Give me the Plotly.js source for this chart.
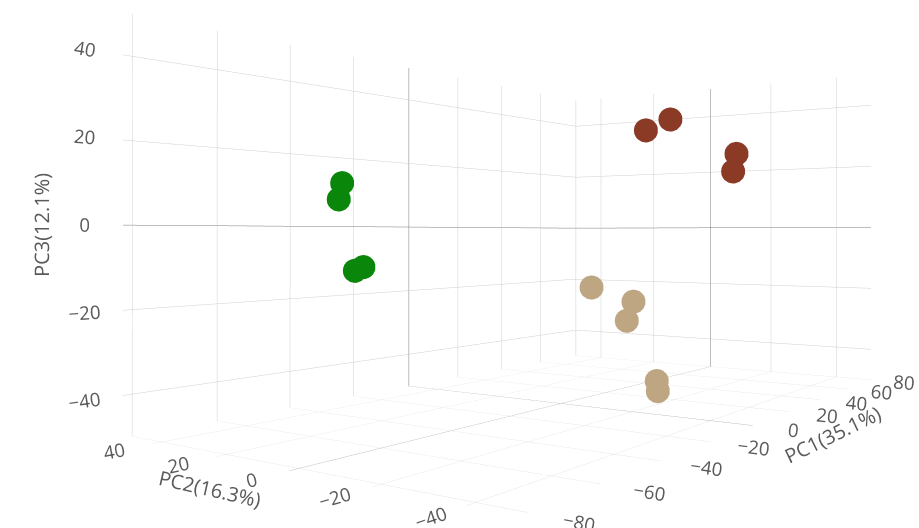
<!DOCTYPE html>
<html>
<head>
<meta charset="utf-8">
<script src="https://cdn.plot.ly/plotly-3.0.1.min.js"></script>
<style>
html,body{margin:0;padding:0;width:919px;height:528px;overflow:hidden;background:#fff;}
#wrap{position:absolute;left:0;top:-203px;width:919px;height:868px;}
#chart{width:919px;height:868px;}
</style>
</head>
<body>
<div id="wrap"><div id="chart"></div></div>
<script>
// Group A (green)
const greenPC1 = [-58.4, -60.4, -56.4, -58.4];
const greenPC2 = [12.6, 11.4, 8.7, 9.0];
const greenPC3 = [9.9, 6.0, -9.7, -10.5];
// Group B (brown)
const brownPC1 = [40, 45, 60, 58];
const brownPC2 = [-0.3, -5.2, -18.1, -18.0];
const brownPC3 = [31.2, 34.9, 24.3, 18.4];
// Group C (tan)
const tanPC1 = [30, 35, 32, 10, 10];
const tanPC2 = [11.0, 0.7, 1.0, -20.7, -21.0];
const tanPC3 = [-19.1, -23.5, -29.3, -43.0, -45.8];

const tickVals = [-80, -60, -40, -20, 0, 20, 40, 60, 80];
const axisTitles = ['PC1(35.1%)', 'PC2(16.3%)', 'PC3(12.1%)'];

function grp(x, y, z, color) {
  return {
    type: 'scatter3d', mode: 'markers', x: x, y: y, z: z,
    marker: {size: 14, color: color, opacity: 1},
    hoverinfo: 'skip', showlegend: false
  };
}
const data = [
  grp(greenPC1, greenPC2, greenPC3, '#0a860a'),
  grp(brownPC1, brownPC2, brownPC3, '#8b3a26'),
  grp(tanPC1, tanPC2, tanPC3, '#bfa683')
];

function ax(title, range) {
  return {
    title: {text: title, font: {family: 'Open Sans, sans-serif', size: 20, color: '#5a5a5a'}},
    range: range, autorange: false,
    tickvals: tickVals,
    tickfont: {family: 'Open Sans, sans-serif', size: 15, color: '#5a5a5a'},
    ticks: 'outside', ticklen: 12, tickcolor: '#ffffff', tickwidth: 1,
    showgrid: true, gridcolor: '#cfcfcf', gridwidth: 1,
    zeroline: true, zerolinecolor: '#7a7a7a', zerolinewidth: 1,
    showline: false, showbackground: false, showspikes: false
  };
}

const layout = {
  width: 919, height: 868,
  margin: {l: 0, r: 0, t: 0, b: 0},
  paper_bgcolor: '#fff',
  showlegend: false,
  scene: {
    domain: {x: [0, 1], y: [0, 1]},
    xaxis: ax(axisTitles[0], [-82, 80]),
    yaxis: ax(axisTitles[1], [-50, 50]),
    zaxis: ax(axisTitles[2], [-50, 50]),
    aspectmode: 'manual',
    aspectratio: {x: 2.068, y: 1.119, z: 1},
    camera: {
      projection: {type: 'perspective'},
      up: {x: 0, y: 0, z: 1},
      center: {x: -0.1605, y: 0.229, z: -0.013},
      eye: {x: -2.5205, y: -1.555, z: -0.018}
    }
  }
};
Plotly.newPlot('chart', data, layout, {displayModeBar: false});
</script>
</body>
</html>
